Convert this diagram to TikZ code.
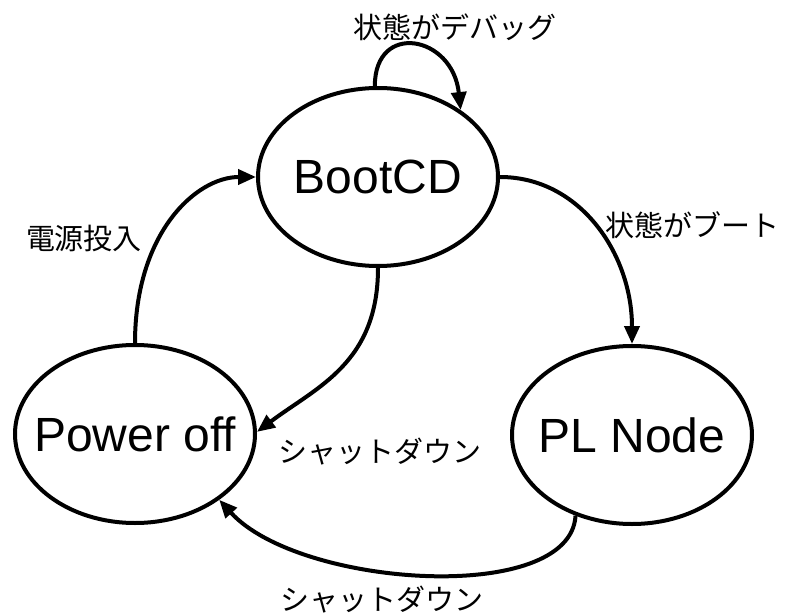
\documentclass[tikz,border=0pt]{standalone}
\usepackage{fontspec}
\setmainfont{Liberation Sans}
\newfontfamily\jp{Noto Sans CJK JP}
\usetikzlibrary{shapes.geometric,arrows.meta}
\begin{document}
\begin{tikzpicture}[x=1pt,y=-1pt,
  state/.style={draw,line width=4pt,ellipse,minimum width=240pt,minimum height=178pt,inner sep=0pt,font=\fontsize{48}{50}\selectfont},
  edge/.style={draw,line width=4pt,-{Triangle[length=18pt,width=15pt]}},
  lab/.style={font=\jp\fontsize{29}{31}\selectfont,inner sep=0pt}]
\useasboundingbox (0,0) rectangle (785,615);
\node[state] (bc) at (378,177) {\makebox[0pt]{BootCD}};
\node[state] (po) at (135,434) {\makebox[0pt]{Power off}};
\node[state] (pl) at (632,435) {\makebox[0pt]{PL Node}};
\draw[edge] (bc.92) .. controls +(0,-65) and +(-8,-75) .. (bc.39);
\draw[edge] (bc.0) .. controls +(80,0) and +(0,-90) .. (pl.90);
\draw[edge] (po.90) .. controls +(0,-110) and +(-60,0) .. (bc.180);
\draw[edge] (bc.270) .. controls +(0,95) and +(60,-45) .. (po.1);
\draw[edge] (pl.235) .. controls +(-5,90) and +(80,88) .. (po.-38);
\node[lab] (l1) at (455,27) {状態がデバッグ};
\node[lab] (l2) at (692,225) {状態がブート};
\node[lab] (l3) at (84,238) {電源投入};
\node[lab] (l4) at (380,452) {シャットダウン};
\node[lab] (l5) at (382,600) {シャットダウン};
\end{tikzpicture}
\end{document}
